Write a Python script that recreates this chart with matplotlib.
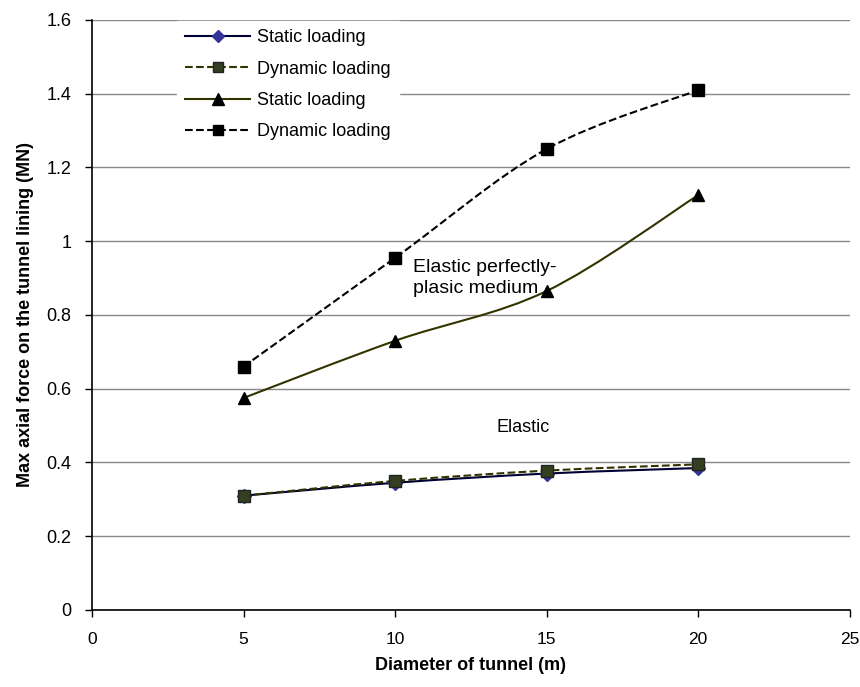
import matplotlib
matplotlib.use("Agg")
import matplotlib.pyplot as plt
from matplotlib.path import Path
from matplotlib.patches import PathPatch
from matplotlib.lines import Line2D
import numpy as np

plt.rcParams['font.family'] = ['Liberation Sans', 'DejaVu Sans']

diameters = [5, 10, 15, 20]
elastic_static = [0.31, 0.345, 0.37, 0.385]
elastic_dynamic = [0.31, 0.35, 0.378, 0.395]
plastic_static = [0.575, 0.73, 0.865, 1.125]
plastic_dynamic = [0.66, 0.955, 1.25, 1.41]

x_ticks = [0, 5, 10, 15, 20, 25]
y_ticks = [0, 0.2, 0.4, 0.6, 0.8, 1.0, 1.2, 1.4, 1.6]
y_tick_labels = ['0', '0.2', '0.4', '0.6', '0.8', '1', '1.2', '1.4', '1.6']

fig = plt.figure(figsize=(8.6, 6.87), dpi=100)
ax = fig.add_axes([0.107, 0.1121, 0.881, 0.8588])


def smooth_path(xs, ys, tension=1/6):
    xs = np.asarray(xs, float); ys = np.asarray(ys, float)
    n = len(xs)
    verts = [(xs[0], ys[0])]
    codes = [Path.MOVETO]
    for i in range(n - 1):
        p0 = (xs[max(i - 1, 0)], ys[max(i - 1, 0)])
        p1 = (xs[i], ys[i])
        p2 = (xs[i + 1], ys[i + 1])
        p3 = (xs[min(i + 2, n - 1)], ys[min(i + 2, n - 1)])
        c1 = (p1[0] + (p2[0] - p0[0]) * tension, p1[1] + (p2[1] - p0[1]) * tension)
        c2 = (p2[0] - (p3[0] - p1[0]) * tension, p2[1] - (p3[1] - p1[1]) * tension)
        verts += [c1, c2, p2]
        codes += [Path.CURVE4] * 3
    return Path(verts, codes)


series = [
    (elastic_static, '#000033', '-', 'D', '#333399', '#333399', 7, 'Static loading'),
    (elastic_dynamic, '#333300', '--', 's', '#333F1F', '#222', 8, 'Dynamic loading'),
    (plastic_static, '#333300', '-', '^', 'black', 'black', 9, 'Static loading'),
    (plastic_dynamic, 'black', '--', 's', 'black', 'black', 8, 'Dynamic loading'),
]

handles = []
for vals, lc, ls, mk, mfc, mec, ms, lab in series:
    patch = PathPatch(smooth_path(diameters, vals), facecolor='none', edgecolor=lc,
                      linestyle=ls, linewidth=1.5, zorder=3)
    ax.add_patch(patch)
    ax.plot(diameters, vals, linestyle='none', marker=mk, markerfacecolor=mfc,
            markeredgecolor=mec, markersize=ms, zorder=4)
    handles.append(Line2D([], [], color=lc, linestyle=ls, linewidth=1.5, marker=mk,
                          markerfacecolor=mfc, markeredgecolor=mec, markersize=ms - 1,
                          label=lab))

ax.set_xlim(0, 25)
ax.set_ylim(0, 1.6)
ax.set_xticks(x_ticks)
ax.set_yticks(y_ticks)
ax.set_yticklabels(y_tick_labels)
ax.set_xticklabels([str(v) for v in x_ticks])

ax.tick_params(axis='both', labelsize=13, direction='out', length=5, width=1, colors='black')
ax.tick_params(axis='x', pad=11, labelsize=12.5)
ax.tick_params(axis='y', pad=10)
ax.grid(axis='y', color='#888888', linewidth=1)
ax.set_axisbelow(True)
for s in ['top', 'right']:
    ax.spines[s].set_visible(False)
for s in ['left', 'bottom']:
    ax.spines[s].set_linewidth(1.2)

ax.set_xlabel('Diameter of tunnel (m)', fontsize=13, fontweight='bold', labelpad=7)
ax.set_ylabel('Max axial force on the tunnel lining (MN)', fontsize=13, fontweight='bold', labelpad=9)

leg = ax.legend(handles=handles, loc='upper left', bbox_to_anchor=(0.112, 0.9983),
                borderaxespad=0, frameon=True, fontsize=13, handlelength=3.6,
                labelspacing=0.8, borderpad=0.45, handletextpad=0.4)
leg.get_frame().set_edgecolor('white')
leg.get_frame().set_facecolor('white')
leg.get_frame().set_alpha(1)
leg.get_frame().set_boxstyle('square', pad=0)

ax.text(10.6, 0.90, 'Elastic perfectly-\nplasic medium', fontsize=14, ha='left', va='center',
        linespacing=1.35)
ax.text(13.35, 0.494, 'Elastic', fontsize=13, ha='left', va='center')

fig.savefig('out.png', dpi=100)
